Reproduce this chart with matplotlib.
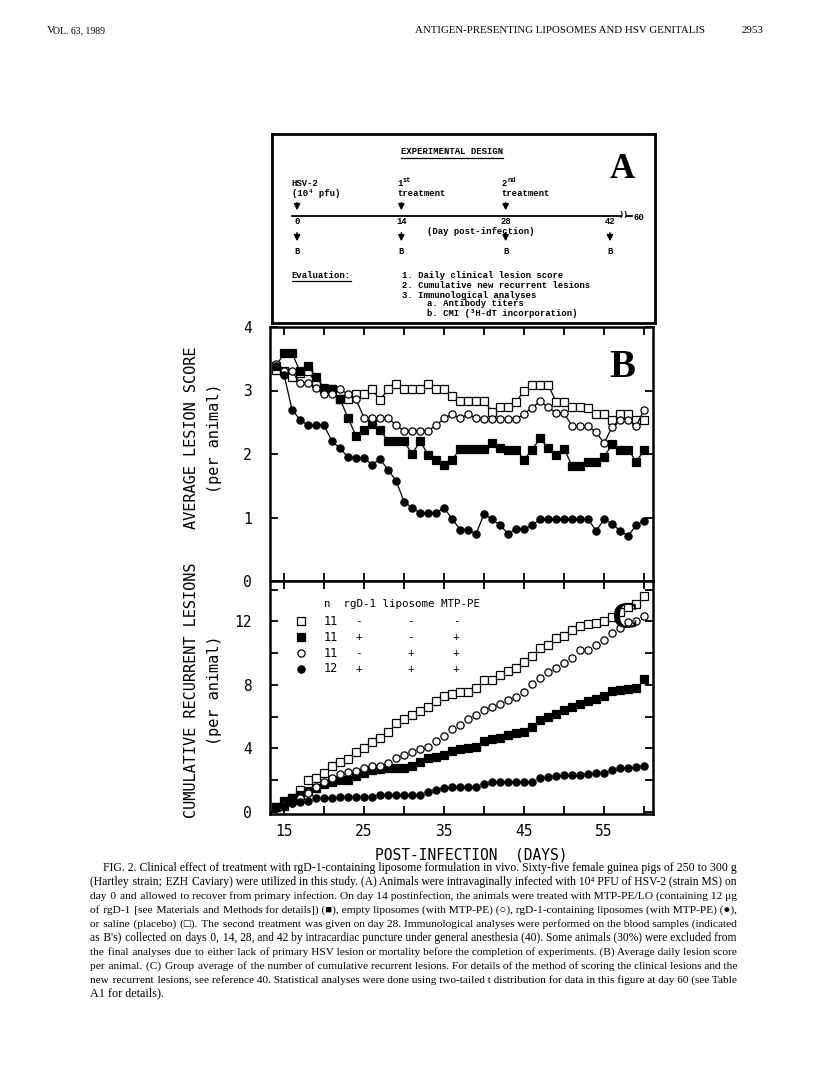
import matplotlib.pyplot as plt
import numpy as np

days = np.arange(14, 61)

# panel B: average lesion score per animal
score_saline = [3.33, 3.30, 3.22, 3.28, 3.30, 3.12, 3.02, 3.02, 2.86, 2.86,
                2.94, 2.94, 3.02, 2.85, 3.02, 3.11, 3.02, 3.02, 3.02, 3.10,
                3.02, 3.02, 2.92, 2.84, 2.84, 2.84, 2.84, 2.66, 2.74, 2.74,
                2.82, 3.00, 3.08, 3.09, 3.09, 2.82, 2.82, 2.74, 2.74, 2.73,
                2.63, 2.63, 2.54, 2.63, 2.63, 2.54, 2.54]
score_rgd = [3.38, 3.59, 3.59, 3.30, 3.38, 3.22, 3.04, 3.02, 2.86, 2.57,
             2.28, 2.38, 2.48, 2.38, 2.20, 2.20, 2.20, 2.00, 2.20, 1.99,
             1.91, 1.82, 1.91, 2.08, 2.08, 2.08, 2.08, 2.18, 2.09, 2.07,
             2.07, 1.91, 2.07, 2.25, 2.09, 1.99, 2.08, 1.81, 1.81, 1.88,
             1.88, 1.96, 2.15, 2.07, 2.07, 1.88, 2.06]
score_empty = [3.41, 3.30, 3.30, 3.12, 3.12, 3.04, 2.94, 2.94, 3.02, 2.94,
               2.86, 2.57, 2.57, 2.57, 2.57, 2.45, 2.37, 2.37, 2.37, 2.37,
               2.45, 2.56, 2.63, 2.56, 2.63, 2.56, 2.55, 2.55, 2.55, 2.55,
               2.55, 2.63, 2.73, 2.83, 2.74, 2.64, 2.64, 2.44, 2.44, 2.44,
               2.34, 2.17, 2.43, 2.54, 2.54, 2.44, 2.70]
score_rgd_mtp = [3.38, 3.25, 2.70, 2.54, 2.45, 2.45, 2.45, 2.20, 2.09, 1.95,
                 1.94, 1.94, 1.83, 1.92, 1.75, 1.58, 1.25, 1.15, 1.07, 1.07,
                 1.07, 1.15, 0.98, 0.81, 0.81, 0.74, 1.06, 0.97, 0.88, 0.74,
                 0.82, 0.82, 0.88, 0.97, 0.97, 0.97, 0.97, 0.97, 0.97, 0.97,
                 0.79, 0.97, 0.90, 0.79, 0.71, 0.88, 0.95]

# panel C: cumulative recurrent lesions per animal
cum_saline = [0.30, 0.35, 0.88, 1.37, 1.98, 2.15, 2.42, 2.90, 3.10, 3.33,
              3.79, 4.00, 4.38, 4.63, 5.05, 5.58, 5.85, 6.10, 6.32, 6.60,
              6.95, 7.30, 7.43, 7.54, 7.54, 7.79, 8.32, 8.32, 8.59, 8.88,
              9.05, 9.47, 9.79, 10.30, 10.50, 10.95, 11.10, 11.43, 11.73, 11.83,
              11.90, 12.04, 12.27, 12.60, 12.90, 13.10, 13.58]
cum_rgd = [0.30, 0.67, 0.84, 1.05, 1.30, 1.52, 1.73, 1.90, 2.00, 2.00,
           2.27, 2.46, 2.63, 2.67, 2.78, 2.78, 2.78, 2.90, 3.16, 3.37,
           3.47, 3.58, 3.83, 3.94, 4.00, 4.06, 4.46, 4.57, 4.67, 4.84,
           4.99, 5.05, 5.37, 5.79, 6.00, 6.17, 6.42, 6.63, 6.78, 6.99,
           7.09, 7.30, 7.64, 7.68, 7.75, 7.83, 8.36]
cum_empty = [0.25, 0.40, 0.55, 0.85, 1.20, 1.55, 1.90, 2.15, 2.36, 2.48,
             2.57, 2.74, 2.90, 2.90, 3.05, 3.37, 3.58, 3.79, 3.94, 4.10,
             4.46, 4.76, 5.20, 5.47, 5.85, 6.10, 6.42, 6.57, 6.78, 7.03,
             7.26, 7.54, 8.08, 8.46, 8.78, 9.05, 9.35, 9.68, 10.20, 10.20,
             10.50, 10.84, 11.30, 11.58, 11.96, 12.00, 12.36]
cum_rgd_mtp = [0.25, 0.35, 0.55, 0.60, 0.67, 0.88, 0.88, 0.88, 0.90, 0.95,
               0.95, 0.95, 0.95, 1.05, 1.05, 1.05, 1.05, 1.05, 1.05, 1.26,
               1.35, 1.47, 1.58, 1.58, 1.58, 1.58, 1.73, 1.89, 1.89, 1.89,
               1.89, 1.89, 1.89, 2.15, 2.21, 2.25, 2.32, 2.32, 2.32, 2.36,
               2.42, 2.42, 2.63, 2.74, 2.74, 2.84, 2.90]

# legend table of panel C
legend_n = ['11', '11', '11', '12']
legend_rgd = ['-', '+', '-', '+']
legend_lipo = ['-', '-', '+', '+']
legend_mtp = ['-', '+', '+', '+']

# panel A timeline
blood_days = [0, 14, 28, 42]
treat_days = [0, 14, 28]

W, H = 816, 1072
fig = plt.figure(figsize=(8.16, 10.72), dpi=100)
mono = 'DejaVu Sans Mono'
tmono = ['Liberation Mono', 'DejaVu Sans Mono']
serif = ['Liberation Serif', 'DejaVu Serif']


def box(x0, y0, x1, y1):
    return [x0 / W, 1 - y1 / H, (x1 - x0) / W, (y1 - y0) / H]


# marker styles: saline (open square), rgD-1 (filled square),
# empty liposome (open circle), rgD-1 liposome MTP-PE (filled circle)
styles = [('s', 'white'), ('s', 'black'), ('o', 'white'), ('o', 'black')]

# ---------- panel A ----------
axA = fig.add_axes(box(272, 134, 655, 323))
axA.set_xlim(-3.36, 48.05)
axA.set_ylim(189, 0)
axA.set_xticks([])
axA.set_yticks([])
for s in axA.spines.values():
    s.set_linewidth(2)

tb = dict(family=tmono, weight='bold', fontsize=6.4, color='k')
t = axA.text(20.8, 18, 'EXPERIMENTAL DESIGN', ha='center', va='center', **tb)
axA.text(43.6, 36, 'A', ha='center', va='center', family=serif,
         weight='bold', fontsize=25)

axA.text(-0.7, 49, 'HSV-2', ha='left', va='center', **tb)
axA.text(-0.7, 60, '(10⁴ pfu)', ha='left', va='center', **tb)
for d, sup in [(14, 'st'), (28, 'nd')]:
    axA.text(d - 0.6, 50, '1' if d == 14 else '2', ha='left', va='center', **tb)
    axA.text(d + 0.2, 46, sup, ha='left', va='center', family=tmono,
             weight='bold', fontsize=5)
    axA.text(d - 0.6, 60, 'treatment', ha='left', va='center', **tb)

arrow = dict(arrowstyle='-|>,head_length=0.35,head_width=0.18', color='k', lw=1.1)
for d in treat_days:
    axA.annotate('', xy=(d, 79), xytext=(d, 66), arrowprops=arrow)
for d in blood_days:
    axA.annotate('', xy=(d, 110), xytext=(d, 96), arrowprops=arrow)
    axA.text(d, 88, str(d), ha='center', va='center', **tb)
    axA.text(d, 117, 'B', ha='center', va='center', **tb)

axA.plot([-0.7, 43.5], [82, 82], color='k', lw=1.3)
axA.text(43.9, 81, '))', ha='center', va='center', family=tmono,
         weight='bold', fontsize=6)
axA.plot([44.3, 44.9], [82, 82], color='k', lw=1.3)
axA.text(45.1, 83, '60', ha='left', va='center', **tb)
axA.text(24.6, 98, '(Day post-infection)', ha='center', va='center', **tb)

t2 = axA.text(-0.7, 141, 'Evaluation:', ha='left', va='center', **tb)
items = [(14.1, 141, '1. Daily clinical lesion score'),
         (14.1, 151, '2. Cumulative new recurrent lesions'),
         (14.1, 161, '3. Immunological analyses'),
         (17.4, 170, 'a. Antibody titers'),
         (17.4, 179, 'b. CMI (³H-dT incorporation)')]
for x, y, s in items:
    axA.text(x, y, s, ha='left', va='center', **tb)

# ---------- panel B ----------
axB = fig.add_axes(box(270, 327, 653, 581))
series_B = [score_saline, score_rgd, score_empty, score_rgd_mtp]
for vals, (m, fc) in zip(series_B, styles):
    axB.plot(days, vals, color='k', lw=0.9, marker=m, ms=5.2,
             mfc=fc, mec='k', mew=0.9)
axB.set_xlim(13.25, 61.1)
axB.set_ylim(0, 4)
axB.set_xticks(np.arange(15, 61, 5))
axB.set_yticks([0, 1, 2, 3, 4])
axB.tick_params(direction='in', length=6, width=1.3, top=True, right=True,
                labelbottom=False, labelsize=10.5, pad=13)
axB.text(57.3, 3.37, 'B', ha='center', va='center', family=serif,
         weight='bold', fontsize=28)

# ---------- panel C ----------
axC = fig.add_axes(box(270, 581, 653, 814))
series_C = [cum_saline, cum_rgd, cum_empty, cum_rgd_mtp]
for vals, (m, fc) in zip(series_C, styles):
    axC.plot(days, vals, ls='none', marker=m, ms=5.2, mfc=fc, mec='k', mew=0.9)
axC.set_xlim(13.25, 61.1)
axC.set_ylim(-0.15, 14.55)
axC.set_xticks(np.arange(15, 61, 5))
axC.set_xticklabels([str(v) if v % 10 == 5 else '' for v in range(15, 61, 5)])
axC.set_yticks(np.arange(0, 15, 2))
axC.set_yticklabels([str(v) if v % 4 == 0 else '' for v in range(0, 15, 2)])
axC.tick_params(direction='in', length=6, width=1.3, top=True, right=True,
                labelsize=10.5, pad=13)
axC.tick_params(axis='x', pad=7)

for ax in (axB, axC):
    for s in ax.spines.values():
        s.set_linewidth(1.8)
    for lab in ax.get_xticklabels() + ax.get_yticklabels():
        lab.set_family(mono)

# legend table in C
rows_y = [12, 11, 10, 9]
axC.text(20.0, 13.1, 'n  rgD-1 liposome MTP-PE', ha='left', va='center',
         family=mono, fontsize=7.8)
for y, (m, fc), n, a, b, c in zip(rows_y, styles, legend_n, legend_rgd,
                                  legend_lipo, legend_mtp):
    axC.plot([17.1], [y], ls='none', marker=m, ms=5.2, mfc=fc, mec='k', mew=0.9)
    axC.text(20.0, y, n, ha='left', va='center', family=mono, fontsize=8.5)
    for x, s in zip([24.3, 30.8, 36.5], [a, b, c]):
        axC.text(x, y, s, ha='center', va='center', family=mono, fontsize=8)
axC.text(57.6, 12.2, 'C', ha='center', va='center', family=serif,
         weight='bold', fontsize=27)

# axis titles
fig.text(192 / W, 1 - 438 / H, 'AVERAGE LESION SCORE', rotation=90,
         ha='center', va='center', family=mono, fontsize=11)
fig.text(214 / W, 1 - 438 / H, '(per animal)', rotation=90,
         ha='center', va='center', family=mono, fontsize=11)
fig.text(192 / W, 1 - 690 / H, 'CUMULATIVE RECURRENT LESIONS', rotation=90,
         ha='center', va='center', family=mono, fontsize=11)
fig.text(214 / W, 1 - 690 / H, '(per animal)', rotation=90,
         ha='center', va='center', family=mono, fontsize=11)
fig.text(471 / W, 1 - 855 / H, 'POST-INFECTION  (DAYS)', ha='center',
         va='center', family=mono, fontsize=10.5)

# page header
fig.text(47 / W, 1 - 33 / H, 'V', ha='left', va='baseline',
         family=serif, fontsize=8)
fig.text(53 / W, 1 - 33 / H, 'OL. 63, 1989', ha='left', va='baseline',
         family=serif, fontsize=7)
fig.text(705 / W, 1 - 33 / H, 'ANTIGEN-PRESENTING LIPOSOMES AND HSV GENITALIS',
         ha='right', va='baseline', family=serif, fontsize=7.8)
fig.text(763 / W, 1 - 33 / H, '2953', ha='right', va='baseline',
         family=serif, fontsize=7.8)

# underlines in panel A
renderer = fig.canvas.get_renderer()
for txt in (t, t2):
    bb = txt.get_window_extent(renderer)
    inv = axA.transData.inverted()
    (x0, y0), (x1, y1) = inv.transform([[bb.x0, bb.y0], [bb.x1, bb.y1]])
    axA.plot([x0, x1], [y0 + 1.5, y0 + 1.5], color='k', lw=0.9)

# caption: one text per line, justified by padding the word gaps with hair spaces
caption = [
    "FIG. 2. Clinical effect of treatment with rgD-1-containing liposome formulation in vivo. Sixty-five female guinea pigs of 250 to 300 g",
    "(Hartley strain; EZH Caviary) were utilized in this study. (A) Animals were intravaginally infected with 10⁴ PFU of HSV-2 (strain MS) on",
    "day 0 and allowed to recover from primary infection. On day 14 postinfection, the animals were treated with MTP-PE/LO (containing 12 μg",
    "of rgD-1 [see Materials and Methods for details]) (■), empty liposomes (with MTP-PE) (○), rgD-1-containing liposomes (with MTP-PE) (●),",
    "or saline (placebo) (□). The second treatment was given on day 28. Immunological analyses were performed on the blood samples (indicated",
    "as B's) collected on days 0, 14, 28, and 42 by intracardiac puncture under general anesthesia (40). Some animals (30%) were excluded from",
    "the final analyses due to either lack of primary HSV lesion or mortality before the completion of experiments. (B) Average daily lesion score",
    "per animal. (C) Group average of the number of cumulative recurrent lesions. For details of the method of scoring the clinical lesions and the",
    "new recurrent lesions, see reference 40. Statistical analyses were done using two-tailed t distribution for data in this figure at day 60 (see Table",
    "A1 for details).",
]
cap_family = ['Liberation Serif', 'DejaVu Sans']
x_right = 737
base_size = 8.7
HAIR = '\u200a'


def text_width(s, size):
    tt = fig.text(0, 0, s, family=cap_family, fontsize=size)
    w = tt.get_window_extent(renderer).width
    tt.remove()
    return w


for i, line in enumerate(caption):
    y = 1 - (867 + 14 * i + 3.5) / H
    x0 = 103 if i == 0 else 90
    target = x_right - x0
    size = base_size
    words = line.split(' ')
    if i < len(caption) - 1:
        w0 = text_width(line, size)
        if w0 > target:
            size *= target / w0
            w0 = text_width(line, size)
        hw = (text_width('x' + HAIR * 40 + 'x', size) - text_width('xx', size)) / 40
        slack = target - w0
        n_extra = int(round(slack / hw)) if hw > 0 else 0
        gaps = len(words) - 1
        per, rem = divmod(max(n_extra, 0), gaps)
        out = words[0]
        for k, w in enumerate(words[1:]):
            out += ' ' + HAIR * (per + (1 if k < rem else 0)) + w
        line = out
    fig.text(x0 / W, y, line, family=cap_family, fontsize=size,
             ha='left', va='baseline')

fig.savefig('out.png', dpi=100)
